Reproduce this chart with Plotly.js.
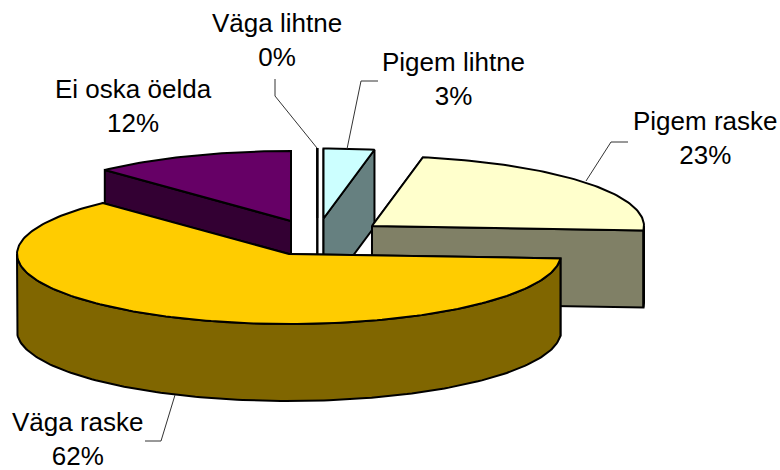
<!DOCTYPE html>
<html><head><meta charset="utf-8">
<script src="https://cdn.plot.ly/plotly-3.0.1.min.js"></script>
<style>html,body{margin:0;padding:0;background:#fff}</style></head>
<body><div id="chart" style="width:780px;height:470px"></div>
<script>
const categories = ["Väga lihtne","Pigem lihtne","Pigem raske","Väga raske","Ei oska öelda"];
const shares = [0,3,23,62,12];
const topColors = ["#FFFFFF","#CCFFFF","#FFFFCC","#FFCC00","#660066"];
const sideColors = ["#808080","#668080","#808066","#806600","#330033"];
const apexX = [317.3,323.5,372,289,291];
const apexY = [218,218.5,226,254,221];
const labelX = [276.5,453.5,705,77.5,133];
const labelY = [39.5,79,138,438.5,105.5];
const RX = 272, RY = 70, DEPTH = 77;
const rad = p => p*3.6*Math.PI/180;
const rim = (k,a,dy=0)=>[apexX[k]+RX*Math.sin(a), apexY[k]-RY*Math.cos(a)+dy];
function poly(pts,fill,w){return {type:'scatter',mode:'lines',x:pts.map(p=>p[0]),y:pts.map(p=>p[1]),
  fill:'toself',fillcolor:fill,line:{color:'#000',width:w||2},hoverinfo:'skip',showlegend:false};}
function arc(k,a0,a1,dy){const n=Math.max(2,Math.ceil(Math.abs(a1-a0)/0.02));const o=[];
  for(let i=0;i<=n;i++)o.push(rim(k,a0+(a1-a0)*i/n,dy));return o;}
const traces=[];
const order=[4,0,1,2,3];
let cum=[];let c=0;shares.forEach(s=>{cum.push(c);c+=s;});
order.forEach(k=>{
  const a0=rad(cum[k]),a1=rad(cum[k]+shares[k]);
  const A=[apexX[k],apexY[k]],B=[apexX[k],apexY[k]+DEPTH];
  const P0=rim(k,a0),P1=rim(k,a1),Q0=rim(k,a0,DEPTH),Q1=rim(k,a1,DEPTH);
  traces.push(poly([A,P0,Q0,B,A],sideColors[k]));
  traces.push(poly([A,P1,Q1,B,A],sideColors[k]));
  const lo=Math.max(a0,Math.PI/2),hi=Math.min(a1,3*Math.PI/2);
  if(hi>lo){const t=arc(k,lo,hi,0),b=arc(k,lo,hi,DEPTH).reverse();traces.push(poly(t.concat(b,[t[0]]),sideColors[k]));}
  traces.push(poly([A].concat(arc(k,a0,a1,0),[A]),topColors[k]));
});
const leaderX=[[275,275,317],[378,361,347],[628,611,586],[145,161,175]];
const leaderY=[[79,96,148],[81,81,149],[142,142,181],[441,441,395]];
leaderX.forEach((x,i)=>traces.push({type:'scatter',mode:'lines',x:x,y:leaderY[i],line:{color:'#333',width:1},hoverinfo:'skip',showlegend:false}));
const annotations=categories.map((n,i)=>({x:labelX[i],y:labelY[i],xref:'x',yref:'y',text:n+'<br>'+shares[i]+'%',showarrow:false,
  xanchor:'center',yanchor:'middle',align:'center',font:{family:'"Liberation Sans",Arial,sans-serif',size:26,color:'#000'}}));
Plotly.newPlot('chart',traces,{width:780,height:470,margin:{l:0,r:0,t:0,b:0},paper_bgcolor:'#fff',plot_bgcolor:'#fff',showlegend:false,
  xaxis:{range:[0,780],visible:false,fixedrange:true},yaxis:{range:[470,0],visible:false,fixedrange:true},annotations:annotations},{displayModeBar:false,staticPlot:true});
</script></body></html>
